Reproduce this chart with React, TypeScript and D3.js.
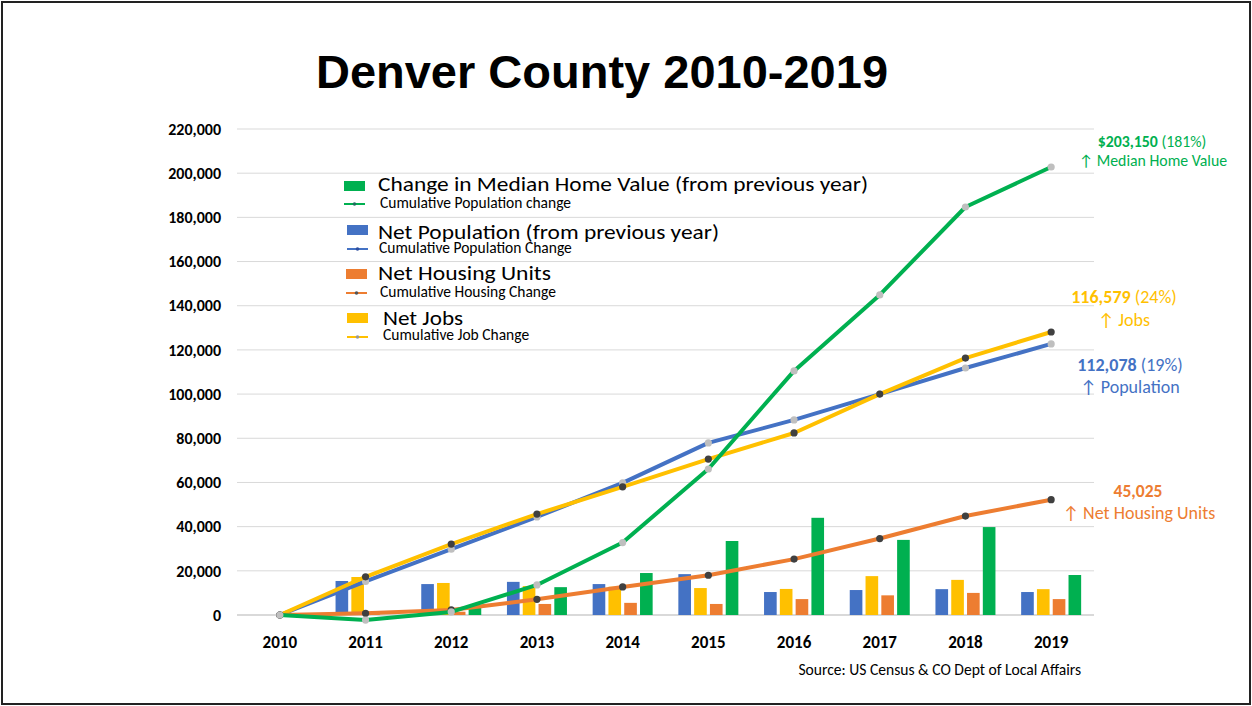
import React from 'react';
import * as d3 from 'd3';

const years = ['2010', '2011', '2012', '2013', '2014', '2015', '2016', '2017', '2018', '2019'];

// Bars: change from previous year
const netPopulation: (number | null)[] = [null, 15400, 14000, 15000, 14000, 18500, 10400, 11300, 11700, 10400];
const netJobs: (number | null)[] = [null, 17200, 14500, 13100, 12800, 12200, 11800, 17600, 15900, 11700];
const netHousing: (number | null)[] = [null, 1000, 1500, 5000, 5500, 5000, 7200, 8900, 10000, 7200];
const homeValueChange: (number | null)[] = [null, null, 3200, 12600, 19000, 33500, 44000, 34000, 39800, 18100];

// Lines: cumulative change
const cumPopulation = [0, 15200, 29800, 44400, 59800, 77900, 88300, 100000, 111800, 122700];
const cumJobs = [0, 17300, 32100, 45700, 58000, 70600, 82400, 100000, 116300, 128100];
const cumHousing = [0, 750, 2300, 7100, 12700, 18000, 25300, 34600, 44800, 52200];
const cumHomeValue = [0, -2300, 1400, 13600, 32800, 66100, 110500, 144900, 184700, 202800];

const yTickValues = [0, 20000, 40000, 60000, 80000, 100000, 120000, 140000, 160000, 180000, 200000, 220000];

const legendLabels = ['Change in Median Home Value (from previous year)', 'Net Population (from previous year)', 'Net Housing Units', 'Net Jobs'];
const legendSubLabels = ['Cumulative Population change', 'Cumulative Population Change', 'Cumulative Housing Change', 'Cumulative Job Change'];

const BLUE = '#4472C4';
const ORANGE = '#ED7D31';
const YELLOW = '#FFC000';
const GREEN = '#00B050';
const DARK = '#404040';
const GRAY = '#BFBFBF';

const F = "Carlito, Calibri, Lato, 'Open Sans', sans-serif";

export default function App() {
  const W = 1252;
  const H = 706;
  const x = d3.scaleBand<string>().domain(years).range([237, 1094]);
  const y = d3.scaleLinear().domain([0, 220000]).range([615, 129]);
  const cx = (i: number) => (x(years[i]) as number) + x.bandwidth() / 2;

  const barSeries = [
    { key: 'pop', values: netPopulation, color: BLUE },
    { key: 'jobs', values: netJobs, color: YELLOW },
    { key: 'housing', values: netHousing, color: ORANGE },
    { key: 'home', values: homeValueChange, color: GREEN },
  ];
  const xi = d3.scaleBand<string>().domain(barSeries.map((s) => s.key)).range([-30, 30]).paddingInner(0.2);

  const lineSeries = [
    { key: 'pop', values: cumPopulation, color: BLUE, marker: GRAY },
    { key: 'jobs', values: cumJobs, color: YELLOW, marker: DARK },
    { key: 'housing', values: cumHousing, color: ORANGE, marker: DARK },
    { key: 'home', values: cumHomeValue, color: GREEN, marker: GRAY },
  ];
  const line = d3
    .line<number>()
    .x((_, i) => cx(i))
    .y((d) => y(d))
    .curve(d3.curveLinear);

  const fmt = d3.format(',');

  const legend = [
    { color: GREEN, dot: '#1F6F5F', rx: 344, ry: 181, tx: 378, by: 191, tl: 490, sx: 380, sby: 208, ly: 204 },
    { color: BLUE, dot: '#2F4F9F', rx: 347, ry: 225, tx: 378, by: 239, tl: 341, sx: 379, sby: 253, ly: 249 },
    { color: ORANGE, dot: '#555', rx: 346, ry: 269, tx: 378, by: 280, tl: 173, sx: 380, sby: 297, ly: 293 },
    { color: YELLOW, dot: '#999', rx: 347, ry: 313, tx: 383, by: 325, tl: 80, sx: 383, sby: 340, ly: 337 },
  ];

  return (
    <svg width={W} height={H} style={{ position: 'absolute', left: 0, top: 0, background: '#fff' }}>
      <rect x={2} y={2} width={W - 4} height={H - 4} fill="#fff" stroke="#222" strokeWidth={2} />
      <text x={602} y={88} textAnchor="middle" fontFamily="'Liberation Sans', Arial, sans-serif" fontWeight="bold" fontSize={47} fill="#000">
        Denver County 2010-2019
      </text>

      {/* gridlines */}
      {yTickValues.map((t) => (
        <line key={t} x1={237} x2={1094} y1={y(t)} y2={y(t)} stroke="#D9D9D9" strokeWidth={t === 0 ? 2 : 1} />
      ))}
      {yTickValues.map((t) => (
        <text key={'l' + t} x={221} y={y(t)} dy="0.36em" textAnchor="end" fontFamily={F} fontWeight="bold" fontSize={16} fill="#000">
          {fmt(t)}
        </text>
      ))}
      {years.map((yr, i) => (
        <text key={yr} x={cx(i)} y={648} textAnchor="middle" fontFamily={F} fontWeight="bold" fontSize={17} fill="#000">
          {yr}
        </text>
      ))}

      {/* bars */}
      {barSeries.map((s) =>
        s.values.map((v, i) =>
          v == null ? null : (
            <rect
              key={s.key + i}
              x={cx(i) + (xi(s.key) as number)}
              y={y(Math.max(0, v))}
              width={xi.bandwidth()}
              height={Math.abs(y(0) - y(v))}
              fill={s.color}
            />
          )
        )
      )}

      {/* lines */}
      {lineSeries.map((s) => (
        <g key={s.key}>
          <path d={line(s.values) || ''} fill="none" stroke={s.color} strokeWidth={4} strokeLinejoin="round" />
          {s.values.map((v, i) => (
            <circle key={i} cx={cx(i)} cy={y(v)} r={3.6} fill={s.marker} />
          ))}
        </g>
      ))}

      {/* legend */}
      {legend.map((l, k) => (
        <g key={k}>
          <rect x={l.rx} y={l.ry} width={21} height={10} fill={l.color} />
          <text x={l.tx} y={l.by} fontFamily={F} fontSize={19.5} fill="#000" textLength={l.tl} lengthAdjust="spacingAndGlyphs">
            {legendLabels[k]}
          </text>
          <line x1={l.rx} x2={l.rx + 21} y1={l.ly} y2={l.ly} stroke={l.color} strokeWidth={2} />
          <circle cx={l.rx + 10.5} cy={l.ly} r={1.8} fill={l.dot} />
          <text x={l.sx} y={l.sby} fontFamily={F} fontSize={15.5} fill="#000">
            {legendSubLabels[k]}
          </text>
        </g>
      ))}

      {/* annotations */}
      <text x={1152} y={147} textAnchor="middle" fontFamily={F} fontSize={15.8} fill={GREEN}>
        <tspan fontWeight="bold">$203,150</tspan> (181%)
      </text>
      <text x={1153} y={166} textAnchor="middle" fontFamily={F} fontSize={15.8} fill={GREEN}>
        ↑ Median Home Value
      </text>
      <text x={1124} y={303} textAnchor="middle" fontFamily={F} fontSize={18} fill={YELLOW}>
        <tspan fontWeight="bold">116,579</tspan> (24%)
      </text>
      <text x={1124} y={326} textAnchor="middle" fontFamily={F} fontSize={18} fill={YELLOW}>
        ↑ Jobs
      </text>
      <text x={1130} y={371} textAnchor="middle" fontFamily={F} fontSize={18} fill={BLUE}>
        <tspan fontWeight="bold">112,078</tspan> (19%)
      </text>
      <text x={1130} y={393} textAnchor="middle" fontFamily={F} fontSize={18} fill={BLUE}>
        ↑ Population
      </text>
      <text x={1138} y={497} textAnchor="middle" fontFamily={F} fontWeight="bold" fontSize={17.5} fill={ORANGE}>
        45,025
      </text>
      <text x={1139} y={519} textAnchor="middle" fontFamily={F} fontSize={18} fill={ORANGE}>
        ↑ Net Housing Units
      </text>

      <text x={1081} y={675} textAnchor="end" fontFamily={F} fontSize={15.6} fill="#000">
        Source: US Census &amp; CO Dept of Local Affairs
      </text>
    </svg>
  );
}
